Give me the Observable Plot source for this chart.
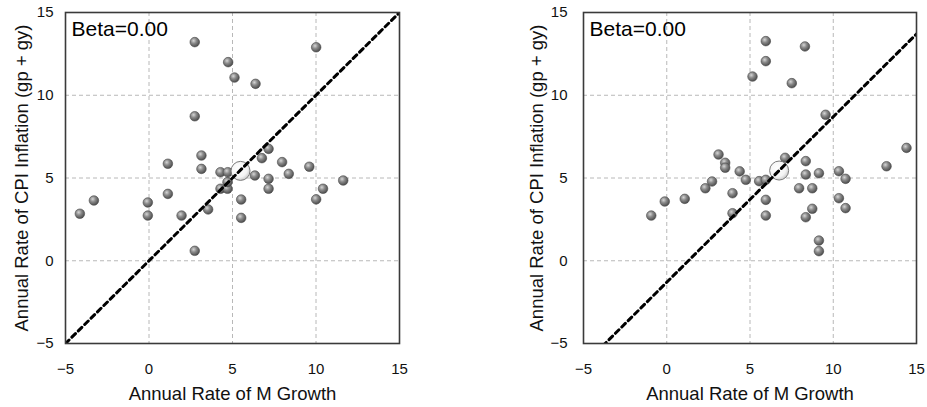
<!DOCTYPE html>
<html><head><meta charset="utf-8">
<script src="https://cdn.jsdelivr.net/npm/d3@7"></script>
<script src="https://cdn.jsdelivr.net/npm/@observablehq/plot@0.6"></script>
<style>
body{margin:0;background:#fff;font-family:Arial,"Liberation Sans",sans-serif;}
#wrap{display:flex;width:927px;height:407px;}
#wrap svg{display:block;}
</style></head><body><div id="wrap"></div>
<script>
const xTicks = [-5, 0, 5, 10, 15];
const yTicks = [-5, 0, 5, 10, 15];
const gridTicks = [0, 5, 10];
const xLabel = "Annual Rate of M Growth";
const yLabel = "Annual Rate of CPI Inflation (gp + gy)";
const betaLabel = "Beta=0.00";

// Left panel
const leftX = [-4.14, -3.3, -0.07, -0.07, 1.13, 1.13, 1.95, 2.74, 2.74, 2.74, 3.14, 3.14, 3.54, 4.28, 4.70, 4.70, 4.28, 4.72, 4.74, 5.12, 5.52, 5.52, 6.34, 6.38, 6.76, 7.16, 7.16, 7.16, 7.97, 8.37, 9.6, 10.01, 10.01, 10.42, 11.63];
const leftY = [2.84, 3.64, 3.52, 2.73, 4.04, 5.86, 2.73, 0.6, 8.73, 13.21, 6.36, 5.55, 3.10, 4.35, 4.35, 4.75, 5.35, 5.35, 12.0, 11.07, 3.70, 2.59, 5.15, 10.69, 6.2, 6.76, 4.95, 4.35, 5.96, 5.25, 5.68, 3.71, 12.9, 4.35, 4.85];
const leftMean = [5.48, 5.43];
const leftIntercept = 0;

// Right panel
const rightX = [-0.93, -0.12, 1.08, 2.32, 2.72, 3.11, 3.51, 3.51, 3.95, 3.95, 4.38, 4.75, 5.55, 5.95, 5.95, 5.95, 5.15, 5.95, 5.95, 7.51, 8.3, 7.11, 8.35, 8.35, 9.14, 7.95, 8.74, 8.74, 8.35, 9.14, 9.14, 10.34, 10.74, 10.34, 10.74, 13.2, 14.4, 9.54];
const rightY = [2.73, 3.58, 3.74, 4.38, 4.79, 6.42, 5.92, 5.62, 4.08, 2.87, 5.40, 4.89, 4.81, 4.89, 3.68, 2.73, 11.13, 12.06, 13.27, 10.73, 12.95, 6.22, 6.02, 5.21, 5.29, 4.38, 4.38, 3.14, 2.63, 1.22, 0.58, 5.41, 4.95, 3.78, 3.18, 5.71, 6.82, 8.82];
const rightMean = [6.75, 5.45];
const rightIntercept = -1.3;

function panel({xs, ys, mean, intercept, width, marginLeft, marginRight, tickPad, ylabOffset, id}) {
  const pts = xs.map((x, i) => ({x, y: ys[i]}));
  const lineData = [xTicks[0], xTicks[xTicks.length - 1]].map(x => ({x, y: x + intercept}));
  const svg = Plot.plot({
    width, height: 407,
    marginLeft, marginRight, marginTop: 12, marginBottom: 64,
    style: {fontFamily: "Arial, 'Liberation Sans', sans-serif", background: "#fff", color: "#111"},
    x: {domain: [-5, 15]},
    y: {domain: [-5, 15]},
    marks: [
      Plot.gridX(gridTicks, {stroke: "#b8b8b8", strokeOpacity: 1, strokeDasharray: "4,3", strokeWidth: 1}),
      Plot.gridY(gridTicks, {stroke: "#b8b8b8", strokeOpacity: 1, strokeDasharray: "4,3", strokeWidth: 1}),
      Plot.axisX(xTicks, {tickSize: 0, tickPadding: 20, fontSize: 15, label: null}),
      Plot.axisY(yTicks, {tickSize: 0, tickPadding: tickPad, fontSize: 15, label: null}),
      Plot.dot(pts, {x: "x", y: "y", r: 4.8, fill: "#777", stroke: "#4a4a4a", strokeWidth: 0.6}),
      Plot.dot([{x: mean[0], y: mean[1]}], {x: "x", y: "y", r: 9.5, fill: "#fff", stroke: "#7a7a7a", strokeWidth: 1}),
      Plot.line(lineData, {x: "x", y: "y", stroke: "#000", strokeWidth: 3, strokeDasharray: "5,4", clip: true}),
      Plot.frame({stroke: "#3a3a3a", strokeWidth: 1.6}),
      Plot.text([betaLabel], {frameAnchor: "top-left", dx: 6, dy: 17, fontSize: 21, textAnchor: "start", lineAnchor: "middle", fill: "#000"}),
      Plot.text([xLabel], {frameAnchor: "bottom", dy: 51, fontSize: 18.5, textAnchor: "middle", lineAnchor: "middle", fill: "#111"}),
      Plot.text([yLabel], {frameAnchor: "left", dx: -ylabOffset, rotate: -90, fontSize: 18.5, textAnchor: "middle", lineAnchor: "middle", fill: "#111"})
    ]
  });
  const s = d3.select(svg);
  const defs = s.insert("defs", ":first-child");
  const g1 = defs.append("radialGradient").attr("id", "ball-" + id).attr("cx", "38%").attr("cy", "35%").attr("r", "65%");
  g1.append("stop").attr("offset", "0%").attr("stop-color", "#d6d6d6");
  g1.append("stop").attr("offset", "45%").attr("stop-color", "#8a8a8a");
  g1.append("stop").attr("offset", "100%").attr("stop-color", "#4e4e4e");
  const g2 = defs.append("radialGradient").attr("id", "mean-" + id).attr("cx", "40%").attr("cy", "38%").attr("r", "65%");
  g2.append("stop").attr("offset", "0%").attr("stop-color", "#ffffff");
  g2.append("stop").attr("offset", "70%").attr("stop-color", "#f4f4f4");
  g2.append("stop").attr("offset", "100%").attr("stop-color", "#c8c8c8");
  const dotGroups = s.selectAll('g[aria-label="dot"]').nodes();
  d3.select(dotGroups[0]).selectAll("circle").attr("fill", `url(#ball-${id})`);
  d3.select(dotGroups[1]).selectAll("circle").attr("fill", `url(#mean-${id})`);
  return svg;
}

const wrap = document.getElementById("wrap");
wrap.appendChild(panel({xs: leftX, ys: leftY, mean: leftMean, intercept: leftIntercept, width: 460, marginLeft: 65, marginRight: 61, tickPad: 12, ylabOffset: 43, id: "l"}));
wrap.appendChild(panel({xs: rightX, ys: rightY, mean: rightMean, intercept: rightIntercept, width: 467, marginLeft: 123, marginRight: 11, tickPad: 16, ylabOffset: 46, id: "r"}));
</script></body></html>
